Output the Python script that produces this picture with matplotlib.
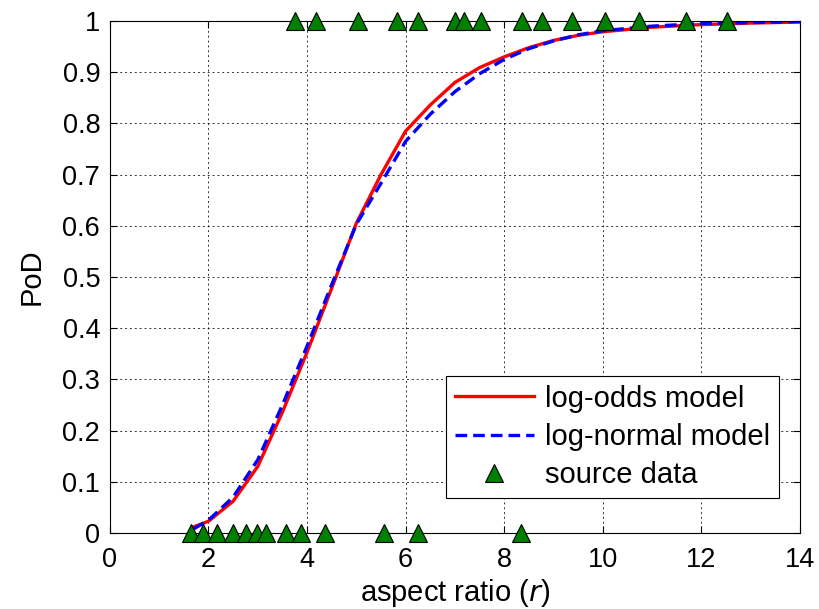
import numpy as np
import matplotlib
matplotlib.use("Agg")
import matplotlib.pyplot as plt
from matplotlib.ticker import FormatStrFormatter

# model curves
r_model = [1.7, 2.0, 2.5, 3.0, 3.5, 4.0, 4.5, 5.0, 5.5, 6.0, 6.5, 7.0,
           7.5, 8.0, 8.5, 9.0, 9.5, 10.0, 11.0, 12.0, 13.0, 14.0]
pod_logodds = [0.012, 0.023, 0.062, 0.130, 0.236, 0.353, 0.478, 0.605, 0.700,
               0.785, 0.836, 0.880, 0.909, 0.930, 0.948, 0.962, 0.972, 0.979,
               0.988, 0.993, 0.996, 0.998]
pod_lognormal = [0.008, 0.025, 0.070, 0.143, 0.250, 0.365, 0.485, 0.603, 0.683,
                 0.765, 0.818, 0.862, 0.897, 0.925, 0.946, 0.961, 0.973, 0.981,
                 0.990, 0.995, 0.997, 0.999]

# source data (hits at 1, misses at 0)
r_miss = [1.65, 1.89, 2.17, 2.50, 2.77, 2.99, 3.17, 3.58, 3.88, 4.37, 5.56, 6.25, 8.35]
r_hit = [3.76, 4.19, 5.03, 5.83, 6.25, 7.00, 7.18, 7.52, 8.36, 8.77, 9.38,
         10.04, 10.73, 11.68, 12.52]

plt.rcParams['font.family'] = ['Liberation Sans', 'DejaVu Sans']

fig = plt.figure(figsize=(8.2, 6.09), dpi=100)
ax = fig.add_axes([0.134, 0.1248, 0.8416, 0.8407])

ax.plot(r_model, pod_logodds, color='red', lw=2.4, label='log-odds model')
ax.plot(r_model, pod_lognormal, color='blue', lw=2.4, ls=(0, (3.5, 1.8)),
        label='log-normal model')

r_src = r_miss + r_hit
pod_src = [0] * len(r_miss) + [1] * len(r_hit)
ax.plot(r_src, pod_src, ls='none', marker='^', ms=13, mfc='green',
        mec='black', mew=0.8, clip_on=False, zorder=5, label='source data')

ax.set_xlim(0, 14)
ax.set_ylim(0, 1)
ax.set_xticks(np.arange(0, 15, 2))
ax.set_yticks(np.arange(0, 1.01, 0.1))
ax.yaxis.set_major_formatter(FormatStrFormatter('%g'))

ax.grid(True, color='black', ls=(0, (2, 3)), lw=0.7, alpha=0.8)
ax.tick_params(direction='in', top=True, right=True, length=5, labelsize=19.5)
ax.tick_params(axis='y', pad=7)
ax.tick_params(axis='x', pad=10)
for s in ax.spines.values():
    s.set_linewidth(0.8)

ax.set_xlabel('aspect ratio ($\\it{r}$)', fontsize=21, labelpad=3)
ax.set_ylabel('PoD', fontsize=21, labelpad=12)

leg = ax.legend(loc='lower right', bbox_to_anchor=(0.97, 0.069), fontsize=21,
                fancybox=False, edgecolor='black', framealpha=1,
                handlelength=2.7, handletextpad=0.4, borderpad=0.3,
                borderaxespad=0, labelspacing=0.35)
leg.get_frame().set_linewidth(0.8)

fig.savefig('out.png', dpi=100)
